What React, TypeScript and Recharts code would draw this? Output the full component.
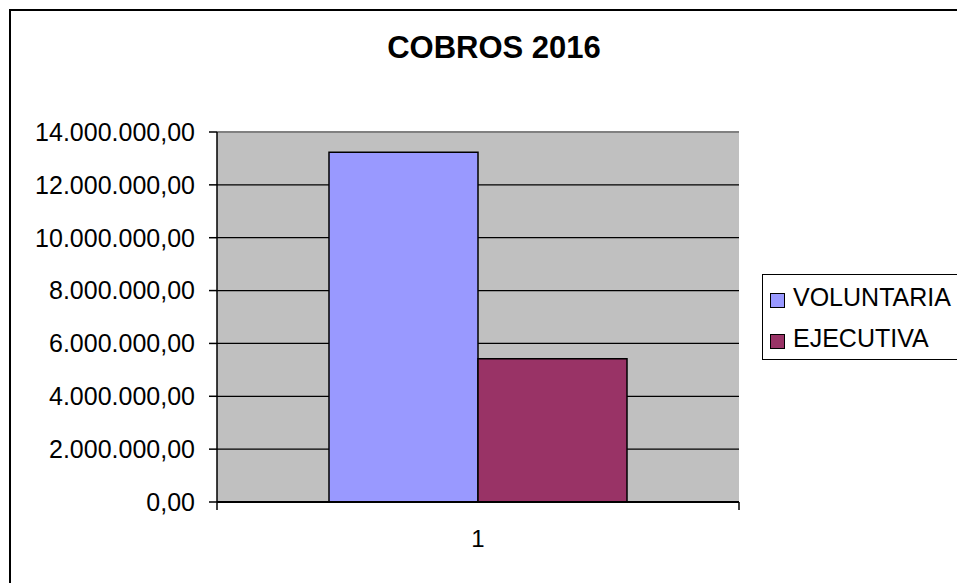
import React from "react";
import {
  BarChart, Bar, XAxis, YAxis, CartesianGrid, ReferenceLine,
} from "recharts";

const categorias = ["1"];
const voluntaria = [13230000];
const ejecutiva = [5420000];
const ticksY = [0, 2000000, 4000000, 6000000, 8000000, 10000000, 12000000, 14000000];

const series = [
  { key: "VOLUNTARIA", color: "#9999FF", values: voluntaria },
  { key: "EJECUTIVA", color: "#993366", values: ejecutiva },
];

const dados = categorias.map((c, i) => ({
  cat: c,
  pos: i,
  VOLUNTARIA: voluntaria[i],
  EJECUTIVA: ejecutiva[i],
}));

const FONT = "'Liberation Sans', Arial, sans-serif";

const numero = (v: number) =>
  v.toLocaleString("de-DE", { minimumFractionDigits: 2, maximumFractionDigits: 2 });

const Leyenda = () => (
  <div
    style={{
      position: "absolute",
      left: 762,
      top: 274,
      border: "1px solid #000",
      background: "#fff",
      width: 230,
      height: 86,
      boxSizing: "border-box",
      paddingTop: 2,
      paddingLeft: 7,
      fontFamily: FONT,
      fontSize: 25,
    }}
  >
    {series.map((s) => (
      <div key={s.key} style={{ display: "flex", alignItems: "center", height: 41, whiteSpace: "nowrap" }}>
        <span
          style={{
            width: 13,
            height: 13,
            background: s.color,
            border: "1.5px solid #000",
            marginRight: 8,
            marginTop: 6,
            flexShrink: 0,
          }}
        />
        <span>{s.key}</span>
      </div>
    ))}
  </div>
);

// rótulo da categoria fica por baixo do eixo, mesmo que o eixo esteja em cima
// eslint-disable-next-line @typescript-eslint/no-explicit-any
const TickCategoria = ({ x, payload }: any) => (
  <text x={x} y={547} textAnchor="middle" fontSize={24} fontFamily={FONT} fill="#000">
    {payload.value}
  </text>
);

const SemTexto = () => <g />;

export default function App() {
  return (
    <div style={{ position: "absolute", left: 0, top: 0, width: 957, height: 583, overflow: "hidden", background: "#fff" }}>
      {/* moldura */}
      <div
        style={{
          position: "absolute",
          left: 9,
          top: 9,
          width: 1100,
          height: 800,
          border: "2px solid #000",
        }}
      />
      <div
        style={{
          position: "absolute",
          left: 0,
          top: 30,
          width: 988,
          textAlign: "center",
          fontFamily: FONT,
          fontWeight: "bold",
          fontSize: 31,
        }}
      >
        COBROS 2016
      </div>
      <div style={{ position: "absolute", left: 0, top: 0 }}>
        <BarChart
          width={957}
          height={583}
          data={dados}
          margin={{ top: 110, right: 218, bottom: 73, left: 17 }}
          barCategoryGap={112}
          barGap={0}
        >
          <CartesianGrid vertical={false} fill="#C0C0C0" stroke="#000" strokeWidth={1.3} fillOpacity={1} />
          <XAxis
            dataKey="cat"
            xAxisId={0}
            orientation="top"
            axisLine={false}
            tickLine={false}
            height={22}
            tick={<TickCategoria />}
          />
          {/* marcas nas bordas da categoria */}
          <XAxis
            xAxisId="marcas"
            dataKey="pos"
            type="number"
            domain={[0, 1]}
            ticks={[0, 1]}
            interval={0}
            tick={<SemTexto />}
            tickSize={8}
            height={8}
            axisLine={{ stroke: "#000", strokeWidth: 2 }}
            tickLine={{ stroke: "#000", strokeWidth: 1.5 }}
          />
          <YAxis
            width={200}
            domain={[0, 14000000]}
            ticks={ticksY}
            interval={0}
            tickFormatter={numero}
            tickSize={8}
            tickMargin={14}
            tick={{ fontSize: 25, fontFamily: FONT, fill: "#000" }}
            axisLine={{ stroke: "#000", strokeWidth: 1.5 }}
            tickLine={{ stroke: "#000", strokeWidth: 1.5 }}
          />
          <YAxis
            yAxisId="dir"
            orientation="right"
            width={0}
            tick={false}
            tickLine={false}
            axisLine={{ stroke: "#808080", strokeWidth: 2 }}
          />
          <ReferenceLine y={14000000} stroke="#808080" strokeWidth={2} />
          {series.map((s) => (
            <Bar
              key={s.key}
              dataKey={s.key}
              fill={s.color}
              stroke="#000"
              strokeWidth={1.5}
              isAnimationActive={false}
            />
          ))}
        </BarChart>
      </div>
      <Leyenda />
    </div>
  );
}
